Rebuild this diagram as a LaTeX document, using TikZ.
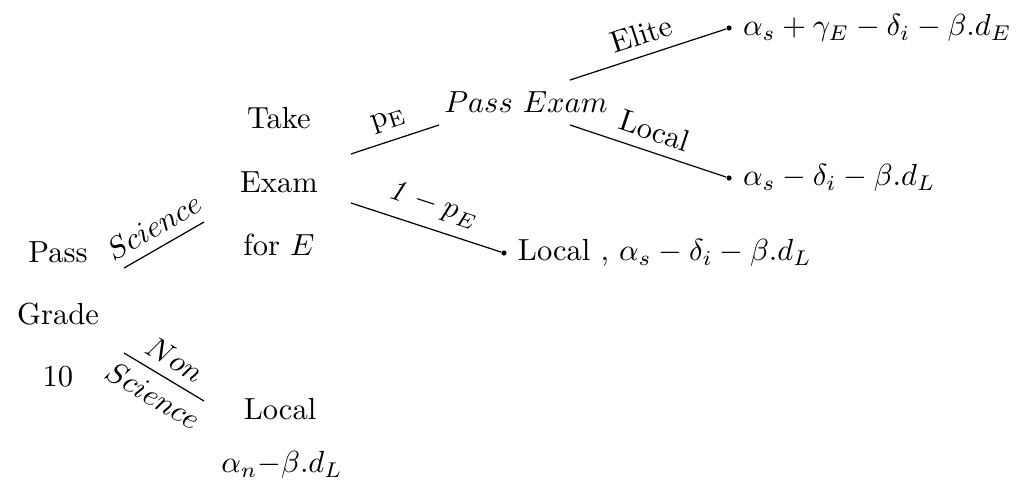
\documentclass[tikz,border=0pt]{standalone}
\usepackage{amsmath,amssymb}
\usepackage{tikz}

\begin{document}
\begin{tikzpicture}[every node/.style={font=\normalsize},
  dot/.style={circle,fill,inner sep=0pt,minimum size=1.7pt},
  stack/.style={align=center}]
\useasboundingbox (0,0) rectangle (11.705,-5.622);
% first move
\node[stack] (root) at (0.668,-3.618) {Pass\\[8.3pt]Grade\\[8.3pt]10};
\coordinate (sciA) at (1.429,-3.088);
\coordinate (sciB) at (2.350,-2.558);
\coordinate (nsA) at (1.429,-4.067);
\coordinate (nsB) at (2.350,-4.620);
\draw (sciA) -- (sciB) node[midway,above,sloped] {$Science$};
\draw (nsA) -- (nsB) node[midway,above,sloped] {$Non$} node[midway,below,sloped] {$Science$};
% non science branch
\node (nsLocal) at (3.226,-4.712) {Local};
\node (nsPay) at (3.249,-5.357) {$\alpha_n{-}\beta.d_L$};
% science branch
\node[stack] (take) at (3.214,-2.097) {Take\\[8.8pt]Exam\\[8.8pt]for $E$};
\coordinate (pA) at (4.044,-1.774);
\coordinate (pB) at (5.058,-1.440);
\coordinate (qA) at (4.044,-2.339);
\node[dot] (fail) at (5.806,-2.915) {};
\draw (pA) -- (pB) node[midway,above,sloped] {$\mathrm{p}_{\mathrm{E}}$};
\draw (qA) -- (fail) node[midway,above,sloped] {$\mathit{1}-p_E$};
\node[anchor=west] (failPay) at (fail.east) {Local , $\alpha_s-\delta_i-\beta.d_L$};
% after passing
\node (pass) at (6.060,-1.175) {$Pass\ Exam$};
\coordinate (eA) at (6.567,-0.922);
\coordinate (lA) at (6.567,-1.440);
\node[dot] (elite) at (8.399,-0.323) {};
\node[dot] (local) at (8.399,-2.051) {};
\draw (eA) -- (elite) node[midway,above,sloped] {Elite};
\draw (lA) -- (local) node[midway,above,sloped] {Local};
\node[anchor=west] (elitePay) at (elite.east) {$\alpha_s+\gamma_E-\delta_i-\beta.d_E$};
\node[anchor=west] (localPay) at (local.east) {$\alpha_s-\delta_i-\beta.d_L$};
\end{tikzpicture}
\end{document}
